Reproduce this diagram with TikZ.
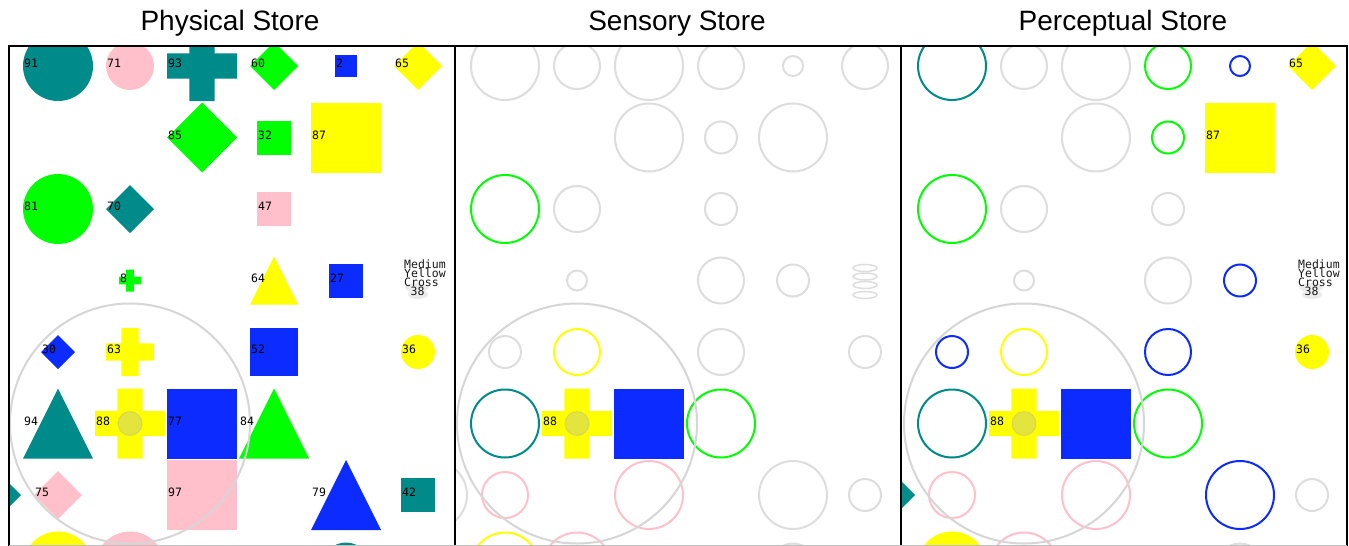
\documentclass[tikz,border=0pt]{standalone}
\usepackage{fontspec}
\setmainfont{Liberation Sans}
\newfontfamily\monof{DejaVu Sans Mono}
\definecolor{cteal}{RGB}{0,139,139}
\definecolor{cpink}{RGB}{255,192,203}
\definecolor{cgreen}{RGB}{0,255,0}
\definecolor{cblue}{RGB}{12,44,255}
\definecolor{cyellow}{RGB}{255,255,0}
\definecolor{cgrey}{RGB}{221,221,221}
\definecolor{cspot}{RGB}{214,214,214}
\tikzset{
  lbl/.style={font=\monof\fontsize{11.5}{11.5}\selectfont, anchor=west, inner sep=0pt, text=black},
  mlbl/.style={font=\monof\fontsize{11.5}{11.5}\selectfont, anchor=base west, inner sep=0pt, text=black!90},
  titletext/.style={font=\fontsize{28}{28}\selectfont, anchor=base, inner sep=0pt},
  oline/.style={line width=2pt},
  spotline/.style={draw=cspot, line width=2pt},
  spotcore/.style={fill=gray!60, fill opacity=0.35, draw=gray!70, draw opacity=0.3, line width=1pt},
  frame/.style={line width=2pt, draw=black}
}
\newcommand\setcell[3]{\pgfmathsetmacro\Cx{#1+50+72*(#2)}\pgfmathsetmacro\Cy{66+71.5*(#3)}}
\newcommand\FC[2]{\fill[#1] (\Cx,\Cy) circle[radius={(#2/2)*1pt}];}
\newcommand\OC[2]{\draw[#1,oline] (\Cx,\Cy) circle[radius={(#2/2-1)*1pt}];}
\newcommand\FS[2]{\fill[#1] ({\Cx-#2/2},{\Cy-#2/2}) rectangle ({\Cx+#2/2},{\Cy+#2/2});}
\newcommand\FD[2]{\fill[#1] ({\Cx-#2/2},\Cy) -- (\Cx,{\Cy-#2/2}) -- ({\Cx+#2/2},\Cy) -- (\Cx,{\Cy+#2/2}) -- cycle;}
\newcommand\FT[2]{\fill[#1] (\Cx,{\Cy-#2/2}) -- ({\Cx+#2/2},{\Cy+#2/2}) -- ({\Cx-#2/2},{\Cy+#2/2}) -- cycle;}
\newcommand\FX[2]{\fill[#1] ({\Cx-#2/2},{\Cy-0.18*#2}) rectangle ({\Cx+#2/2},{\Cy+0.18*#2}) ({\Cx-0.18*#2},{\Cy-#2/2}) rectangle ({\Cx+0.18*#2},{\Cy+#2/2});}
\newcommand\LB[2]{\node[lbl] at ({\Cx-#1/2+1},{\Cy-2.5}) {#2};}
\newcommand\MYC{%
  \fill[gray!16] ({\Cx-1},{\Cy+7}) ellipse[x radius=12pt, y radius=4.5pt];
  \fill[gray!16] ({\Cx},{\Cy+14}) ellipse[x radius=10pt, y radius=4.5pt];
  \node[mlbl] at ({\Cx-14},{\Cy-12.5}) {Medium};
  \node[mlbl] at ({\Cx-14},{\Cy-3.5}) {Yellow};
  \node[mlbl] at ({\Cx-14},{\Cy+5.5}) {Cross};
  \node[mlbl] at ({\Cx-7.5},{\Cy+14.5}) {38};}
\newcommand\SPOT[1]{%
  \setcell{#1}{1}{5}
  \draw[spotline] (\Cx,\Cy) circle[radius=120pt];
  \path[spotcore] (\Cx,\Cy) circle[radius=12pt];}
\begin{document}
\begin{tikzpicture}[x=1pt,y=-1pt]
\useasboundingbox (0,0) rectangle (1349,546);
\fill[white] (0,0) rectangle (1349,546);
% titles
\node[titletext] (t1) at (230,30) {Physical Store};
\node[titletext] (t2) at (677,30) {Sensory Store};
\node[titletext] (t3) at (1123,30) {Perceptual Store};
% ---------------- Physical store
\begin{scope}
\clip (9,46) rectangle (455,546);
\setcell{8}{0}{0}\FC{cteal}{70}
\setcell{8}{1}{0}\FC{cpink}{48}
\setcell{8}{2}{0}\FX{cteal}{70}
\setcell{8}{3}{0}\FD{cgreen}{48}
\setcell{8}{4}{0}\FS{cblue}{22}
\setcell{8}{5}{0}\FD{cyellow}{48}
\setcell{8}{2}{1}\FD{cgreen}{70}
\setcell{8}{3}{1}\FS{cgreen}{34}
\setcell{8}{4}{1}\FS{cyellow}{70}
\setcell{8}{0}{2}\FC{cgreen}{70}
\setcell{8}{1}{2}\FD{cteal}{48}
\setcell{8}{3}{2}\FS{cpink}{34}
\setcell{8}{1}{3}\FX{cgreen}{22}
\setcell{8}{3}{3}\FT{cyellow}{48}
\setcell{8}{4}{3}\FS{cblue}{34}
\setcell{8}{0}{4}\FD{cblue}{34}
\setcell{8}{1}{4}\FX{cyellow}{48}
\setcell{8}{3}{4}\FS{cblue}{48}
\setcell{8}{5}{4}\FC{cyellow}{34}
\setcell{8}{0}{5}\FT{cteal}{70}
\setcell{8}{1}{5}\FX{cyellow}{70}
\setcell{8}{2}{5}\FS{cblue}{70}
\setcell{8}{3}{5}\FT{cgreen}{70}
\setcell{8}{-1}{6}\FD{cteal}{70}
\setcell{8}{0}{6}\FD{cpink}{48}
\setcell{8}{2}{6}\FS{cpink}{70}
\setcell{8}{4}{6}\FT{cblue}{70}
\setcell{8}{5}{6}\FS{cteal}{34}
\setcell{8}{0}{7}\FC{cyellow}{70}
\setcell{8}{1}{7}\FC{cpink}{70}
\setcell{8}{4}{7}\FC{cteal}{48}
\SPOT{8}
\setcell{8}{0}{0}\LB{70}{91}
\setcell{8}{1}{0}\LB{48}{71}
\setcell{8}{2}{0}\LB{70}{93}
\setcell{8}{3}{0}\LB{48}{60}
\setcell{8}{4}{0}\LB{22}{2}
\setcell{8}{5}{0}\LB{48}{65}
\setcell{8}{2}{1}\LB{70}{85}
\setcell{8}{3}{1}\LB{34}{32}
\setcell{8}{4}{1}\LB{70}{87}
\setcell{8}{0}{2}\LB{70}{81}
\setcell{8}{1}{2}\LB{48}{70}
\setcell{8}{3}{2}\LB{34}{47}
\setcell{8}{1}{3}\LB{22}{8}
\setcell{8}{3}{3}\LB{48}{64}
\setcell{8}{4}{3}\LB{34}{27}
\setcell{8}{5}{3}\MYC
\setcell{8}{0}{4}\LB{34}{30}
\setcell{8}{1}{4}\LB{48}{63}
\setcell{8}{3}{4}\LB{48}{52}
\setcell{8}{5}{4}\LB{34}{36}
\setcell{8}{0}{5}\LB{70}{94}
\setcell{8}{1}{5}\LB{70}{88}
\setcell{8}{2}{5}\LB{70}{77}
\setcell{8}{3}{5}\LB{70}{84}
\setcell{8}{0}{6}\LB{48}{75}
\setcell{8}{2}{6}\LB{70}{97}
\setcell{8}{4}{6}\LB{70}{79}
\setcell{8}{5}{6}\LB{34}{42}
\end{scope}
% ---------------- Sensory store
\begin{scope}
\clip (455,46) rectangle (901,546);
\setcell{455}{0}{0}\OC{cgrey}{70}
\setcell{455}{1}{0}\OC{cgrey}{48}
\setcell{455}{2}{0}\OC{cgrey}{70}
\setcell{455}{3}{0}\OC{cgrey}{48}
\setcell{455}{4}{0}\OC{cgrey}{22}
\setcell{455}{5}{0}\OC{cgrey}{48}
\setcell{455}{2}{1}\OC{cgrey}{70}
\setcell{455}{3}{1}\OC{cgrey}{34}
\setcell{455}{4}{1}\OC{cgrey}{70}
\setcell{455}{0}{2}\OC{cgreen}{70}
\setcell{455}{1}{2}\OC{cgrey}{48}
\setcell{455}{3}{2}\OC{cgrey}{34}
\setcell{455}{1}{3}\OC{cgrey}{22}
\setcell{455}{3}{3}\OC{cgrey}{48}
\setcell{455}{4}{3}\OC{cgrey}{34}
\setcell{455}{5}{3}
\foreach \dy in {-12.5,-4,4.5,14.5}{\draw[cgrey,line width=1.5pt] (\Cx,{\Cy+\dy}) ellipse[x radius=12pt, y radius=3.5pt];}
\setcell{455}{0}{4}\OC{cgrey}{34}
\setcell{455}{1}{4}\OC{cyellow}{48}
\setcell{455}{3}{4}\OC{cgrey}{48}
\setcell{455}{5}{4}\OC{cgrey}{34}
\setcell{455}{0}{5}\OC{cteal}{70}
\setcell{455}{1}{5}\FX{cyellow}{70}
\setcell{455}{2}{5}\FS{cblue}{70}
\setcell{455}{3}{5}\OC{cgreen}{70}
\setcell{455}{-1}{6}\OC{cgrey}{70}
\setcell{455}{0}{6}\OC{cpink}{48}
\setcell{455}{2}{6}\OC{cpink}{70}
\setcell{455}{4}{6}\OC{cgrey}{70}
\setcell{455}{5}{6}\OC{cgrey}{34}
\setcell{455}{0}{7}\OC{cyellow}{70}
\setcell{455}{1}{7}\OC{cpink}{70}
\setcell{455}{4}{7}\OC{cgrey}{48}
\SPOT{455}
\setcell{455}{1}{5}\LB{70}{88}
\end{scope}
% ---------------- Perceptual store
\begin{scope}
\clip (901,46) rectangle (1347,546);
\setcell{902}{0}{0}\OC{cteal}{70}
\setcell{902}{1}{0}\OC{cgrey}{48}
\setcell{902}{2}{0}\OC{cgrey}{70}
\setcell{902}{3}{0}\OC{cgreen}{48}
\setcell{902}{4}{0}\OC{cblue}{22}
\setcell{902}{5}{0}\FD{cyellow}{48}
\setcell{902}{2}{1}\OC{cgrey}{70}
\setcell{902}{3}{1}\OC{cgreen}{34}
\setcell{902}{4}{1}\FS{cyellow}{70}
\setcell{902}{0}{2}\OC{cgreen}{70}
\setcell{902}{1}{2}\OC{cgrey}{48}
\setcell{902}{3}{2}\OC{cgrey}{34}
\setcell{902}{1}{3}\OC{cgrey}{22}
\setcell{902}{3}{3}\OC{cgrey}{48}
\setcell{902}{4}{3}\OC{cblue}{34}
\setcell{902}{0}{4}\OC{cblue}{34}
\setcell{902}{1}{4}\OC{cyellow}{48}
\setcell{902}{3}{4}\OC{cblue}{48}
\setcell{902}{5}{4}\FC{cyellow}{34}
\setcell{902}{0}{5}\OC{cteal}{70}
\setcell{902}{1}{5}\FX{cyellow}{70}
\setcell{902}{2}{5}\FS{cblue}{70}
\setcell{902}{3}{5}\OC{cgreen}{70}
\setcell{902}{-1}{6}\FD{cteal}{70}
\setcell{902}{0}{6}\OC{cpink}{48}
\setcell{902}{2}{6}\OC{cpink}{70}
\setcell{902}{4}{6}\OC{cblue}{70}
\setcell{902}{5}{6}\OC{cgrey}{34}
\setcell{902}{0}{7}\FC{cyellow}{70}
\setcell{902}{1}{7}\OC{cpink}{70}
\setcell{902}{4}{7}\OC{cgrey}{48}
\SPOT{902}
\setcell{902}{5}{0}\LB{48}{65}
\setcell{902}{4}{1}\LB{70}{87}
\setcell{902}{5}{3}\MYC
\setcell{902}{5}{4}\LB{34}{36}
\setcell{902}{1}{5}\LB{70}{88}
\end{scope}
% frames
\draw[frame] (9,547) -- (9,46) -- (1347,46) -- (1347,547);
\draw[frame] (455,46) -- (455,547);
\draw[frame] (901,46) -- (901,547);
\draw[gray!50, line width=1pt] (9,545.5) -- (1347,545.5);
\end{tikzpicture}
\end{document}
